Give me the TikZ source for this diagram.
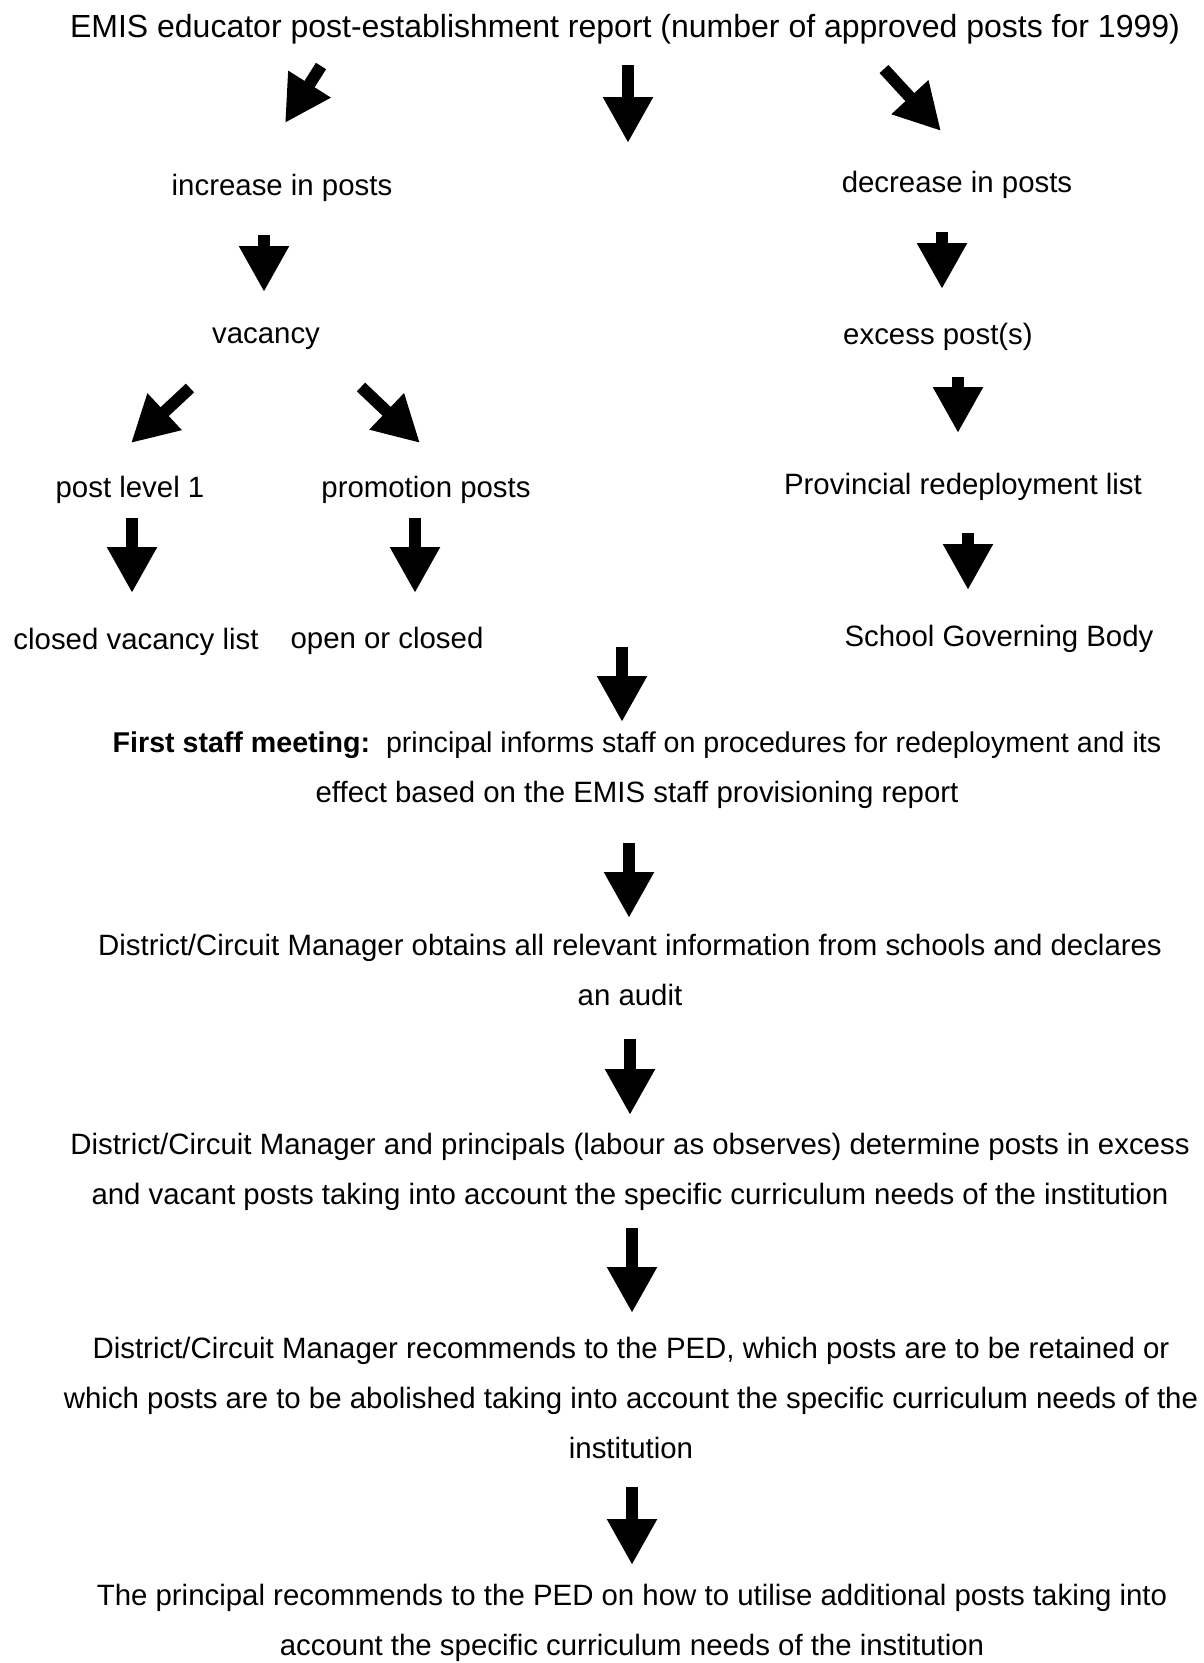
\documentclass[tikz,border=0pt]{standalone}
\usepackage{fontspec}
\setmainfont{Liberation Sans}
\usetikzlibrary{arrows.meta}
\begin{document}
\begin{tikzpicture}[x=1pt,y=-1pt,
  lbl/.style={font=\fontsize{29.4}{50}\selectfont, inner sep=0pt, align=center},
  blockarrow/.style={line width=12pt, -{Triangle[width=47pt,length=46pt]}}]
\useasboundingbox (0,0) rectangle (1203,1663);

% text of the flow
\node[lbl, font=\fontsize{32}{50}\selectfont] (title) at (625,29) {EMIS educator post-establishment report (number of approved posts for 1999)};
\node[lbl] (inc)   at (282,188) {increase in posts};
\node[lbl] (dec)   at (957,185) {decrease in posts};
\node[lbl] (vac)   at (266,339) {vacancy};
\node[lbl] (exc)   at (938,337) {excess post(s)};
\node[lbl] (pl1)   at (130,490) {post level 1};
\node[lbl] (promo) at (426,490) {promotion posts};
\node[lbl] (prov)  at (963,487) {Provincial redeployment list};
\node[lbl] (cvl)   at (136,642) {closed vacancy list};
\node[lbl] (ooc)   at (387,641) {open or closed};
\node[lbl] (sgb)   at (999,639) {School Governing Body};
\node[lbl, font=\fontsize{28.6}{50}\selectfont] (meet) at (637,770) {\textbf{First staff meeting:}\ \ principal informs staff on procedures for redeployment and its\\{\fontsize{29.4}{50}\selectfont effect based on the EMIS staff provisioning report}};
\node[lbl] (dist1) at (630,970) {District/Circuit Manager obtains all relevant information from schools and declares\\an audit};
\node[lbl] (dist2) at (630,1172) {District/Circuit Manager and principals (labour as observes) determine posts in excess\\and vacant posts taking into account the specific curriculum needs of the institution};
\node[lbl] (dist3) at (631,1398) {District/Circuit Manager recommends to the PED, which posts are to be retained or\\which posts are to be abolished taking into account the specific curriculum needs of the\\institution};
\node[lbl] (princ) at (632,1623) {The principal recommends to the PED on how to utilise additional posts taking into\\account the specific curriculum needs of the institution};

% arrow end points
\coordinate (a1s) at (321,66);  \coordinate (a1e) at (285,123);
\coordinate (a2s) at (628,65);  \coordinate (a2e) at (628,143);
\coordinate (a3s) at (884,69);  \coordinate (a3e) at (941,131);
\coordinate (a4s) at (264,235); \coordinate (a4e) at (264,292);
\coordinate (a5s) at (942,232); \coordinate (a5e) at (942,289);
\coordinate (a6s) at (190,388); \coordinate (a6e) at (131,443);
\coordinate (a7s) at (361,387); \coordinate (a7e) at (420,443);
\coordinate (a8s) at (958,377); \coordinate (a8e) at (958,433);
\coordinate (a9s) at (132,518); \coordinate (a9e) at (132,593);
\coordinate (a10s) at (415,518); \coordinate (a10e) at (415,593);
\coordinate (a11s) at (968,533); \coordinate (a11e) at (968,590);
\coordinate (a12s) at (622,647); \coordinate (a12e) at (622,722);
\coordinate (a13s) at (629,843); \coordinate (a13e) at (629,918);
\coordinate (a14s) at (630,1039); \coordinate (a14e) at (630,1115);
\coordinate (a15s) at (632,1228); \coordinate (a15e) at (632,1313);
\coordinate (a16s) at (632,1487); \coordinate (a16e) at (632,1565);

% block arrows
\foreach \i in {1,...,16}
  \draw[blockarrow] (a\i s) -- (a\i e);
\end{tikzpicture}
\end{document}
